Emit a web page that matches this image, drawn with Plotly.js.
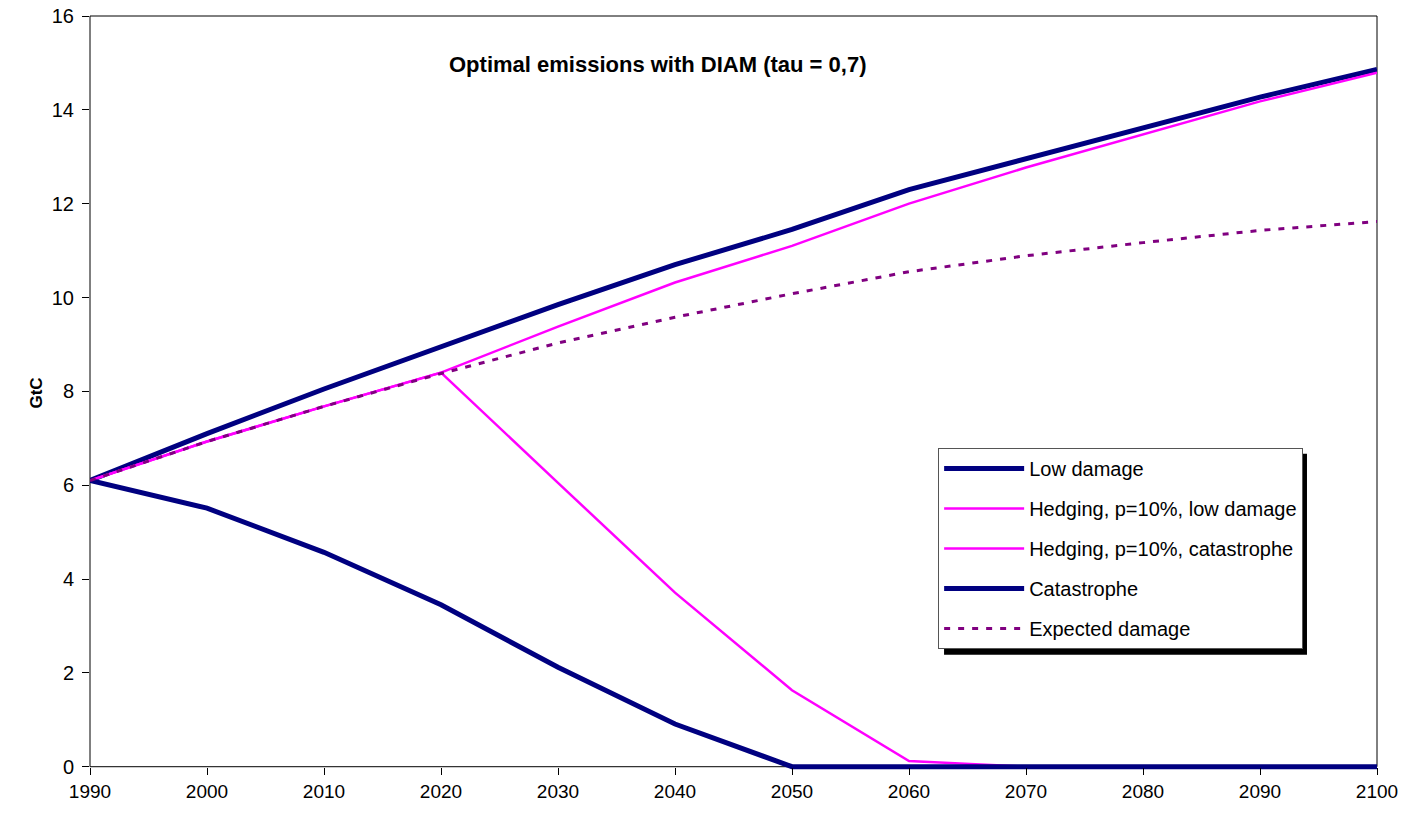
<!DOCTYPE html>
<html>
<head>
<meta charset="utf-8">
<script src="https://cdn.plot.ly/plotly-3.0.1.min.js"></script>
<style>html,body{margin:0;padding:0;background:#fff;}#chart{width:1416px;height:819px;}</style>
</head>
<body>
<div id="chart"></div>
<script>
const years = [1990, 2000, 2010, 2020, 2030, 2040, 2050, 2060, 2070, 2080, 2090, 2100];
const lowDamage = [6.1, 7.1, 8.05, 8.95, 9.85, 10.7, 11.45, 12.3, 12.95, 13.62, 14.27, 14.86];
const hedgingLow = [6.1, 6.93, 7.68, 8.4, 9.38, 10.32, 11.1, 12.0, 12.77, 13.47, 14.18, 14.79];
const hedgingCat = [6.1, 6.93, 7.68, 8.4, 6.05, 3.71, 1.63, 0.12, 0, 0, 0, 0];
const catastrophe = [6.1, 5.51, 4.57, 3.45, 2.12, 0.91, 0, 0, 0, 0, 0, 0];
const expected = [6.1, 6.93, 7.68, 8.38, 9.03, 9.58, 10.08, 10.55, 10.89, 11.17, 11.43, 11.62];
const seriesNames = ["Low damage", "Hedging, p=10%, low damage", "Hedging, p=10%, catastrophe", "Catastrophe", "Expected damage"];
const yTicks = [0, 2, 4, 6, 8, 10, 12, 14, 16];
const xTicks = [1990, 2000, 2010, 2020, 2030, 2040, 2050, 2060, 2070, 2080, 2090, 2100];

const navy = "#000080", magenta = "#FF00FF", purple = "#800080";
const mk = (y, i, color, width, dash) => ({
  x: years, y: y, type: "scatter", mode: "lines", name: seriesNames[i],
  legendgroup: "g" + i, line: {color: color, width: width, dash: dash || "solid"},
  hoverinfo: "skip"
});
const traces = [
  mk(lowDamage, 0, navy, 5),
  mk(hedgingLow, 1, magenta, 2.5),
  mk(hedgingCat, 2, magenta, 2.5),
  mk(catastrophe, 3, navy, 5),
  mk(expected, 4, purple, 3, "6px,8px")
];

const yMin = -0.07, yMax = 16;
const zeroPos = (0 - yMin) / (yMax - yMin);
const fontFam = "Liberation Sans, Arial, sans-serif";
const layout = {
  width: 1416, height: 819,
  margin: {l: 90, r: 39, t: 16, b: 49},
  paper_bgcolor: "#fff", plot_bgcolor: "#fff",
  font: {family: fontFam, color: "#000", size: 17},
  showlegend: true,
  legend: {
    x: 0.659, y: 0.4272, xanchor: "left", yanchor: "top",
    bgcolor: "#fff", bordercolor: "#555", borderwidth: 1,
    font: {family: fontFam, size: 20, color: "#000"},
    tracegroupgap: 11, itemwidth: 80
  },
  xaxis: {
    range: [1990, 2100], tickmode: "array", tickvals: xTicks, ticktext: xTicks.map(String),
    anchor: "free", position: zeroPos,
    showgrid: false, zeroline: false, showline: false,
    ticks: "outside", ticklen: 7, tickcolor: "#000",
    tickfont: {size: 19, family: fontFam}
  },
  yaxis: {
    range: [yMin, yMax], tickmode: "array", tickvals: yTicks, ticktext: yTicks.map(String),
    showgrid: false, zeroline: false, showline: false,
    ticks: "outside", ticklen: 7, tickcolor: "#000",
    tickfont: {size: 20, family: fontFam}, ticklabelstandoff: 4,
    title: {text: "<b>GtC</b>", font: {size: 17, family: fontFam}, standoff: 4}
  },
  annotations: [{
    text: "<b>Optimal emissions with DIAM (tau = 0,7)</b>",
    xref: "paper", yref: "paper", x: 0.441, y: 0.9353, xanchor: "center", yanchor: "middle",
    showarrow: false, font: {size: 22, family: fontFam, color: "#000"}
  }],
  shapes: [
    {type: "rect", xref: "paper", yref: "paper", layer: "below",
     x0: 0, x1: 1, y0: zeroPos, y1: 1, line: {color: "#000", width: 1}, fillcolor: "rgba(0,0,0,0)"},
    {type: "rect", xref: "paper", yref: "paper", layer: "above",
     x0: 0.6636, x1: 0.9456, y0: 0.1529, y1: 0.4193,
     fillcolor: "#000", line: {width: 0}}
  ]
};
Plotly.newPlot("chart", traces, layout, {displayModeBar: false, staticPlot: true});
</script>
</body>
</html>
